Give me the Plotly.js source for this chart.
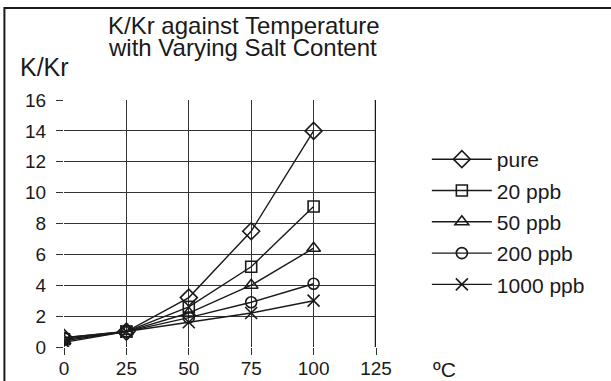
<!DOCTYPE html>
<html>
<head>
<meta charset="utf-8">
<script src="https://cdn.plot.ly/plotly-3.0.1.min.js"></script>
<style>html,body{margin:0;padding:0;background:#fff;}#chart{width:611px;height:381px;}</style>
</head>
<body>
<div id="chart"></div>
<script>
const temperature = [0, 25, 50, 75, 100];
const seriesNames = ["pure", "20 ppb", "50 ppb", "200 ppb", "1000 ppb"];
const pure = [0.6, 1.0, 3.2, 7.5, 14.0];
const ppb20 = [0.5, 1.0, 2.6, 5.2, 9.1];
const ppb50 = [0.4, 1.0, 2.2, 4.0, 6.4];
const ppb200 = [0.6, 1.0, 1.9, 2.9, 4.1];
const ppb1000 = [0.3, 1.0, 1.6, 2.2, 3.0];
const xTicks = [0, 25, 50, 75, 100, 125];
const yTicks = [0, 2, 4, 6, 8, 10, 12, 14, 16];

const seriesValues = [pure, ppb20, ppb50, ppb200, ppb1000];
const symbols = ["diamond-open", "square-open", "triangle-up-open", "circle-open", "x-thin-open"];
const sizes = [13, 11, 12, 11, 12];

const traces = seriesValues.map((vals, i) => ({
  x: temperature, y: vals, name: seriesNames[i], type: "scatter", mode: "lines+markers",
  legendgroup: "g" + i,
  line: {color: "#1a1a1a", width: 1.4},
  marker: {symbol: symbols[i], size: sizes[i], color: "#1a1a1a", line: {color: "#1a1a1a", width: 1.6}}
}));

const font = "Liberation Sans, Arial, sans-serif";
const ink = "#1a1a1a";
const layout = {
  width: 611, height: 381,
  margin: {l: 64, r: 235, t: 100, b: 34},
  paper_bgcolor: "#fff", plot_bgcolor: "#fff",
  font: {family: font, size: 20, color: ink},
  xaxis: {range: [0, 125], tickvals: xTicks, ticktext: xTicks.map(String), showgrid: true, gridcolor: "#333", gridwidth: 1,
          zeroline: false, showline: false, ticks: "outside", ticklen: 7, tickcolor: "#333", tickfont: {size: 19},
          ticklabelstandoff: -3, fixedrange: true},
  yaxis: {range: [0, 16], tickvals: yTicks, ticktext: yTicks.map(String), showgrid: true, gridcolor: "#333", gridwidth: 1,
          zeroline: false, showline: false, ticks: "outside", ticklen: 7, tickcolor: "#333", tickfont: {size: 19},
          ticklabelstandoff: 6, fixedrange: true},
  showlegend: true,
  legend: {x: 1.163, xanchor: "left", y: 0.842, yanchor: "top", traceorder: "grouped", tracegroupgap: 1, itemwidth: 60,
           font: {family: font, size: 21, color: ink}, bgcolor: "rgba(0,0,0,0)"},
  annotations: [
    {text: "K/Kr against Temperature", xref: "paper", yref: "paper", x: 0.135, y: 1.30, xanchor: "left", yanchor: "middle",
     showarrow: false, font: {family: font, size: 24, color: ink}},
    {text: "with Varying Salt Content", xref: "paper", yref: "paper", x: 0.135, y: 1.212, xanchor: "left", yanchor: "middle",
     showarrow: false, font: {family: font, size: 24, color: ink}},
    {text: "K/Kr", xref: "paper", yref: "paper", x: -0.147, y: 1.135, xanchor: "left", yanchor: "middle", showarrow: false,
     font: {family: font, size: 25, color: ink}},
    {text: "ºC", xref: "paper", yref: "paper", x: 1.177, y: -0.092, xanchor: "left", yanchor: "middle", showarrow: false,
     font: {family: font, size: 21, color: ink}}
  ],
  shapes: [
    {type: "line", xref: "x", yref: "paper", x0: 125, x1: 125, y0: 0, y1: 1, line: {color: ink, width: 2.5}},
    {type: "rect", xref: "paper", yref: "paper", x0: -0.191, x1: 2.0, y0: -0.4, y1: 1.372, line: {color: ink, width: 2}}
  ]
};
Plotly.newPlot("chart", traces, layout, {staticPlot: true, displayModeBar: false});
</script>
</body>
</html>
